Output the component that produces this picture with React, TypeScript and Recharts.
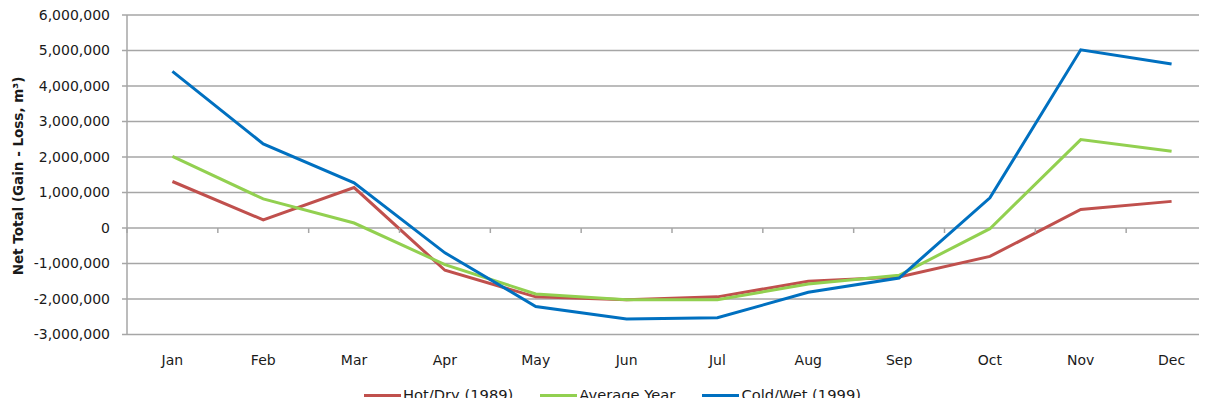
import React from 'react';
import { LineChart, Line, XAxis, YAxis, CartesianGrid } from 'recharts';

const months = ['Jan', 'Feb', 'Mar', 'Apr', 'May', 'Jun', 'Jul', 'Aug', 'Sep', 'Oct', 'Nov', 'Dec'];
const hotDry = [1310000, 230000, 1140000, -1190000, -1940000, -2020000, -1940000, -1500000, -1380000, -800000, 520000, 750000];
const average = [2020000, 820000, 140000, -1030000, -1860000, -2020000, -2020000, -1580000, -1330000, -20000, 2490000, 2160000];
const coldWet = [4410000, 2370000, 1270000, -700000, -2210000, -2560000, -2530000, -1810000, -1410000, 850000, 5020000, 4620000];
const yTicks = [-3000000, -2000000, -1000000, 0, 1000000, 2000000, 3000000, 4000000, 5000000, 6000000];

const series = [
  { key: 'hot', name: 'Hot/Dry (1989)', color: '#C0504D', values: hotDry },
  { key: 'avg', name: 'Average Year', color: '#92D050', values: average },
  { key: 'cold', name: 'Cold/Wet (1999)', color: '#0070C0', values: coldWet },
];

const data = months.map((m, i) => ({
  month: m,
  hot: hotDry[i],
  avg: average[i],
  cold: coldWet[i],
}));

// layout
const W = 1225;
const H = 406;
const TOP = 15;
const AXIS_W = 127;
const RIGHT = 8;
const PLOT_H = 319.5;
const X_H = 30;
const BAND = (W - AXIS_W - RIGHT) / months.length;
const ZERO_Y = TOP + (PLOT_H * 6) / 9;
const FONT = '"DejaVu Sans", sans-serif';
const GRID = '#A6A6A6';
const TEXT = '#1a1a1a';

const XTick = (props: any) => {
  const { x, y, payload } = props;
  return (
    <g>
      <line x1={x - BAND / 2} x2={x - BAND / 2} y1={ZERO_Y} y2={ZERO_Y + 5} stroke={GRID} strokeWidth={1.5} />
      <text x={x} y={y + 22} textAnchor="middle" fontSize={14} fontFamily={FONT} fill={TEXT}>
        {payload.value}
      </text>
    </g>
  );
};

const YLabel = () => (
  <text
    x={18}
    y={176}
    transform="rotate(-90 18 176)"
    textAnchor="middle"
    dominantBaseline="central"
    fontSize={13.5}
    fontWeight="bold"
    fontFamily={FONT}
    fill={TEXT}
  >
    Net Total (Gain - Loss, m³)
  </text>
);

// legend drawn as plain html under the plot
const ChartLegend = () => (
  <div
    style={{
      position: 'absolute',
      top: 386,
      left: 0,
      width: W,
      display: 'flex',
      justifyContent: 'center',
      gap: 27,
      fontFamily: FONT,
      fontSize: 14.7,
      lineHeight: '18px',
      color: TEXT,
    }}
  >
    {series.map((s) => (
      <div key={s.key} style={{ display: 'flex', alignItems: 'center' }}>
        <span style={{ display: 'inline-block', width: 37, height: 3, background: s.color, marginRight: 2 }} />
        <span>{s.name}</span>
      </div>
    ))}
  </div>
);

export default function App() {
  return (
    <div style={{ position: 'relative', margin: -8, width: 1207, height: 406, overflow: 'hidden', background: '#fff' }}>
      <LineChart
        width={W}
        height={H}
        data={data}
        margin={{ top: TOP, right: RIGHT, left: 0, bottom: H - TOP - PLOT_H - X_H }}
      >
        <CartesianGrid vertical={false} stroke={GRID} strokeWidth={1.5} />
        <XAxis
          dataKey="month"
          height={X_H}
          axisLine={false}
          tickLine={false}
          tick={<XTick />}
          interval={0}
          padding={{ left: BAND / 2, right: BAND / 2 }}
        />
        <YAxis
          width={AXIS_W}
          domain={[-3000000, 6000000]}
          ticks={yTicks}
          interval={0}
          axisLine={{ stroke: GRID, strokeWidth: 1.5 }}
          tickLine={{ stroke: GRID, strokeWidth: 1.5 }}
          tickSize={5}
          tickMargin={12}
          tick={{ fontSize: 14, fontFamily: FONT, fill: TEXT }}
          tickFormatter={(v: number) => v.toLocaleString('en-US')}
          label={{ content: () => <YLabel /> }}
        />
        {series.map((s) => (
          <Line
            key={s.key}
            dataKey={s.key}
            name={s.name}
            stroke={s.color}
            strokeWidth={3}
            dot={false}
            activeDot={false}
            type="linear"
            isAnimationActive={false}
          />
        ))}
      </LineChart>
      <ChartLegend />
    </div>
  );
}
